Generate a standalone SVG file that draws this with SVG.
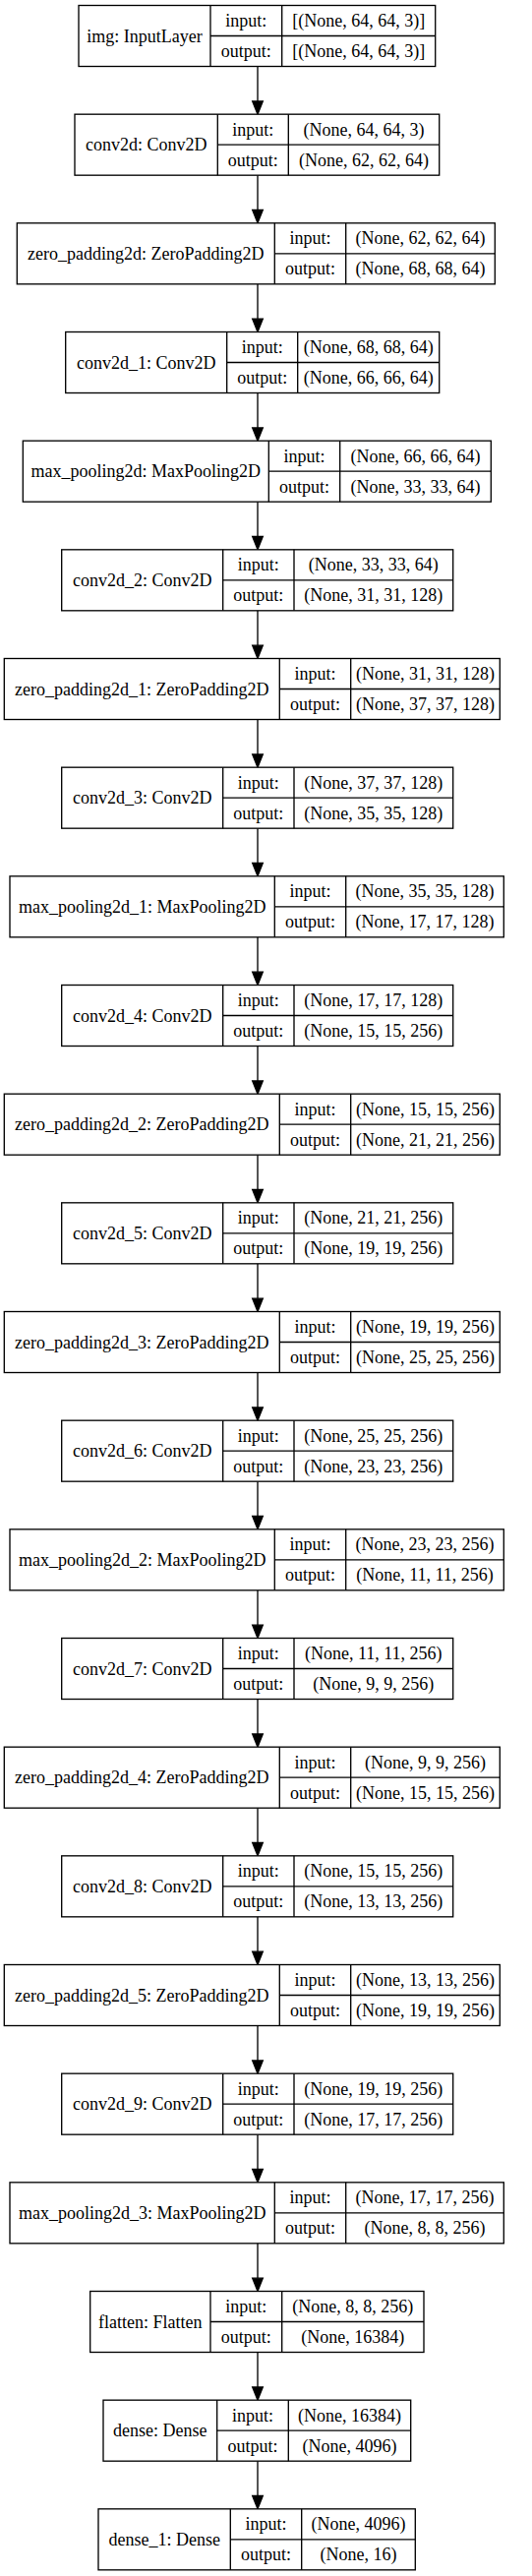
<svg xmlns="http://www.w3.org/2000/svg" width="541" height="2619" viewBox="0 0 541 2619">
<style>
.b{fill:#fff;stroke:#000;stroke-width:1.33}
.l{fill:none;stroke:#000;stroke-width:1.33}
.a{fill:#000;stroke:#000;stroke-width:1.33}
text{font-family:"Liberation Serif","Times New Roman",serif;font-size:18px;text-anchor:middle;fill:#000}
</style>
<rect x="0" y="0" width="541" height="2619" fill="#fff"/>
<g id="edges">
<path class="l" d="M262 67.5V102.9M262 178.2V213.5M262 288.8V324.2M262 399.5V434.9M262 510.2V545.5M262 620.8V656.2M262 731.5V766.9M262 842.2V877.5M262 952.8V988.2M262 1063.5V1098.9M262 1174.2V1209.5M262 1284.8V1320.2M262 1395.5V1430.9M262 1506.2V1541.5M262 1616.8V1652.2M262 1727.5V1762.9M262 1838.2V1873.5M262 1948.8V1984.2M262 2059.5V2094.9M262 2170.2V2205.5M262 2280.8V2316.2M262 2391.5V2426.9M262 2502.2V2537.5"/>
<polygon class="a" points="256.7,102.9 267.3,102.9 262,116.2"/>
<polygon class="a" points="256.7,213.5 267.3,213.5 262,226.8"/>
<polygon class="a" points="256.7,324.2 267.3,324.2 262,337.5"/>
<polygon class="a" points="256.7,434.9 267.3,434.9 262,448.2"/>
<polygon class="a" points="256.7,545.5 267.3,545.5 262,558.8"/>
<polygon class="a" points="256.7,656.2 267.3,656.2 262,669.5"/>
<polygon class="a" points="256.7,766.9 267.3,766.9 262,780.2"/>
<polygon class="a" points="256.7,877.5 267.3,877.5 262,890.8"/>
<polygon class="a" points="256.7,988.2 267.3,988.2 262,1001.5"/>
<polygon class="a" points="256.7,1098.9 267.3,1098.9 262,1112.2"/>
<polygon class="a" points="256.7,1209.5 267.3,1209.5 262,1222.8"/>
<polygon class="a" points="256.7,1320.2 267.3,1320.2 262,1333.5"/>
<polygon class="a" points="256.7,1430.9 267.3,1430.9 262,1444.2"/>
<polygon class="a" points="256.7,1541.5 267.3,1541.5 262,1554.8"/>
<polygon class="a" points="256.7,1652.2 267.3,1652.2 262,1665.5"/>
<polygon class="a" points="256.7,1762.9 267.3,1762.9 262,1776.2"/>
<polygon class="a" points="256.7,1873.5 267.3,1873.5 262,1886.8"/>
<polygon class="a" points="256.7,1984.2 267.3,1984.2 262,1997.5"/>
<polygon class="a" points="256.7,2094.9 267.3,2094.9 262,2108.2"/>
<polygon class="a" points="256.7,2205.5 267.3,2205.5 262,2218.8"/>
<polygon class="a" points="256.7,2316.2 267.3,2316.2 262,2329.5"/>
<polygon class="a" points="256.7,2426.9 267.3,2426.9 262,2440.2"/>
<polygon class="a" points="256.7,2537.5 267.3,2537.5 262,2550.8"/>
</g>

<g id="img" transform="translate(0,5.5)">
<rect class="b" x="80" y="0" width="362.7" height="62"/>
<path class="l" d="M214 0V62M286.7 0V62M214 31H442.7"/>
<text x="147" y="37">img: InputLayer</text>
<text x="250.3" y="21.5">input:</text>
<text x="364.7" y="21.5">[(None, 64, 64, 3)]</text>
<text x="250.3" y="52.5">output:</text>
<text x="364.7" y="52.5">[(None, 64, 64, 3)]</text>
</g>

<g id="conv2d" transform="translate(0,116.17)">
<rect class="b" x="76" y="0" width="370.7" height="62"/>
<path class="l" d="M221.3 0V62M293.3 0V62M221.3 31H446.7"/>
<text x="148.7" y="37">conv2d: Conv2D</text>
<text x="257.3" y="21.5">input:</text>
<text x="370" y="21.5">(None, 64, 64, 3)</text>
<text x="257.3" y="52.5">output:</text>
<text x="370" y="52.5">(None, 62, 62, 64)</text>
</g>

<g id="zero_padding2d" transform="translate(0,226.83)">
<rect class="b" x="17.3" y="0" width="486" height="62"/>
<path class="l" d="M279.3 0V62M351.7 0V62M279.3 31H503.3"/>
<text x="148.3" y="37">zero_padding2d: ZeroPadding2D</text>
<text x="315.5" y="21.5">input:</text>
<text x="427.5" y="21.5">(None, 62, 62, 64)</text>
<text x="315.5" y="52.5">output:</text>
<text x="427.5" y="52.5">(None, 68, 68, 64)</text>
</g>

<g id="conv2d_1" transform="translate(0,337.5)">
<rect class="b" x="66.7" y="0" width="380" height="62"/>
<path class="l" d="M230.7 0V62M302.7 0V62M230.7 31H446.7"/>
<text x="148.7" y="37">conv2d_1: Conv2D</text>
<text x="266.7" y="21.5">input:</text>
<text x="374.7" y="21.5">(None, 68, 68, 64)</text>
<text x="266.7" y="52.5">output:</text>
<text x="374.7" y="52.5">(None, 66, 66, 64)</text>
</g>

<g id="max_pooling2d" transform="translate(0,448.17)">
<rect class="b" x="23.3" y="0" width="476" height="62"/>
<path class="l" d="M273.3 0V62M345.7 0V62M273.3 31H499.3"/>
<text x="148.3" y="37">max_pooling2d: MaxPooling2D</text>
<text x="309.5" y="21.5">input:</text>
<text x="422.5" y="21.5">(None, 66, 66, 64)</text>
<text x="309.5" y="52.5">output:</text>
<text x="422.5" y="52.5">(None, 33, 33, 64)</text>
</g>

<g id="conv2d_2" transform="translate(0,558.83)">
<rect class="b" x="62.7" y="0" width="398" height="62"/>
<path class="l" d="M226.7 0V62M299 0V62M226.7 31H460.7"/>
<text x="144.7" y="37">conv2d_2: Conv2D</text>
<text x="262.8" y="21.5">input:</text>
<text x="379.8" y="21.5">(None, 33, 33, 64)</text>
<text x="262.8" y="52.5">output:</text>
<text x="379.8" y="52.5">(None, 31, 31, 128)</text>
</g>

<g id="zero_padding2d_1" transform="translate(0,669.5)">
<rect class="b" x="4.3" y="0" width="504" height="62"/>
<path class="l" d="M284.3 0V62M356.7 0V62M284.3 31H508.3"/>
<text x="144.3" y="37">zero_padding2d_1: ZeroPadding2D</text>
<text x="320.5" y="21.5">input:</text>
<text x="432.5" y="21.5">(None, 31, 31, 128)</text>
<text x="320.5" y="52.5">output:</text>
<text x="432.5" y="52.5">(None, 37, 37, 128)</text>
</g>

<g id="conv2d_3" transform="translate(0,780.17)">
<rect class="b" x="62.7" y="0" width="398" height="62"/>
<path class="l" d="M226.7 0V62M299 0V62M226.7 31H460.7"/>
<text x="144.7" y="37">conv2d_3: Conv2D</text>
<text x="262.8" y="21.5">input:</text>
<text x="379.8" y="21.5">(None, 37, 37, 128)</text>
<text x="262.8" y="52.5">output:</text>
<text x="379.8" y="52.5">(None, 35, 35, 128)</text>
</g>

<g id="max_pooling2d_1" transform="translate(0,890.83)">
<rect class="b" x="10" y="0" width="502.3" height="62"/>
<path class="l" d="M279.3 0V62M351.7 0V62M279.3 31H512.3"/>
<text x="144.7" y="37">max_pooling2d_1: MaxPooling2D</text>
<text x="315.5" y="21.5">input:</text>
<text x="432" y="21.5">(None, 35, 35, 128)</text>
<text x="315.5" y="52.5">output:</text>
<text x="432" y="52.5">(None, 17, 17, 128)</text>
</g>

<g id="conv2d_4" transform="translate(0,1001.5)">
<rect class="b" x="62.7" y="0" width="398" height="62"/>
<path class="l" d="M226.7 0V62M299 0V62M226.7 31H460.7"/>
<text x="144.7" y="37">conv2d_4: Conv2D</text>
<text x="262.8" y="21.5">input:</text>
<text x="379.8" y="21.5">(None, 17, 17, 128)</text>
<text x="262.8" y="52.5">output:</text>
<text x="379.8" y="52.5">(None, 15, 15, 256)</text>
</g>

<g id="zero_padding2d_2" transform="translate(0,1112.17)">
<rect class="b" x="4.3" y="0" width="504" height="62"/>
<path class="l" d="M284.3 0V62M356.7 0V62M284.3 31H508.3"/>
<text x="144.3" y="37">zero_padding2d_2: ZeroPadding2D</text>
<text x="320.5" y="21.5">input:</text>
<text x="432.5" y="21.5">(None, 15, 15, 256)</text>
<text x="320.5" y="52.5">output:</text>
<text x="432.5" y="52.5">(None, 21, 21, 256)</text>
</g>

<g id="conv2d_5" transform="translate(0,1222.83)">
<rect class="b" x="62.7" y="0" width="398" height="62"/>
<path class="l" d="M226.7 0V62M299 0V62M226.7 31H460.7"/>
<text x="144.7" y="37">conv2d_5: Conv2D</text>
<text x="262.8" y="21.5">input:</text>
<text x="379.8" y="21.5">(None, 21, 21, 256)</text>
<text x="262.8" y="52.5">output:</text>
<text x="379.8" y="52.5">(None, 19, 19, 256)</text>
</g>

<g id="zero_padding2d_3" transform="translate(0,1333.5)">
<rect class="b" x="4.3" y="0" width="504" height="62"/>
<path class="l" d="M284.3 0V62M356.7 0V62M284.3 31H508.3"/>
<text x="144.3" y="37">zero_padding2d_3: ZeroPadding2D</text>
<text x="320.5" y="21.5">input:</text>
<text x="432.5" y="21.5">(None, 19, 19, 256)</text>
<text x="320.5" y="52.5">output:</text>
<text x="432.5" y="52.5">(None, 25, 25, 256)</text>
</g>

<g id="conv2d_6" transform="translate(0,1444.17)">
<rect class="b" x="62.7" y="0" width="398" height="62"/>
<path class="l" d="M226.7 0V62M299 0V62M226.7 31H460.7"/>
<text x="144.7" y="37">conv2d_6: Conv2D</text>
<text x="262.8" y="21.5">input:</text>
<text x="379.8" y="21.5">(None, 25, 25, 256)</text>
<text x="262.8" y="52.5">output:</text>
<text x="379.8" y="52.5">(None, 23, 23, 256)</text>
</g>

<g id="max_pooling2d_2" transform="translate(0,1554.83)">
<rect class="b" x="10" y="0" width="502.3" height="62"/>
<path class="l" d="M279.3 0V62M351.7 0V62M279.3 31H512.3"/>
<text x="144.7" y="37">max_pooling2d_2: MaxPooling2D</text>
<text x="315.5" y="21.5">input:</text>
<text x="432" y="21.5">(None, 23, 23, 256)</text>
<text x="315.5" y="52.5">output:</text>
<text x="432" y="52.5">(None, 11, 11, 256)</text>
</g>

<g id="conv2d_7" transform="translate(0,1665.5)">
<rect class="b" x="62.7" y="0" width="398" height="62"/>
<path class="l" d="M226.7 0V62M299 0V62M226.7 31H460.7"/>
<text x="144.7" y="37">conv2d_7: Conv2D</text>
<text x="262.8" y="21.5">input:</text>
<text x="379.8" y="21.5">(None, 11, 11, 256)</text>
<text x="262.8" y="52.5">output:</text>
<text x="379.8" y="52.5">(None, 9, 9, 256)</text>
</g>

<g id="zero_padding2d_4" transform="translate(0,1776.17)">
<rect class="b" x="4.3" y="0" width="504" height="62"/>
<path class="l" d="M284.3 0V62M356.7 0V62M284.3 31H508.3"/>
<text x="144.3" y="37">zero_padding2d_4: ZeroPadding2D</text>
<text x="320.5" y="21.5">input:</text>
<text x="432.5" y="21.5">(None, 9, 9, 256)</text>
<text x="320.5" y="52.5">output:</text>
<text x="432.5" y="52.5">(None, 15, 15, 256)</text>
</g>

<g id="conv2d_8" transform="translate(0,1886.83)">
<rect class="b" x="62.7" y="0" width="398" height="62"/>
<path class="l" d="M226.7 0V62M299 0V62M226.7 31H460.7"/>
<text x="144.7" y="37">conv2d_8: Conv2D</text>
<text x="262.8" y="21.5">input:</text>
<text x="379.8" y="21.5">(None, 15, 15, 256)</text>
<text x="262.8" y="52.5">output:</text>
<text x="379.8" y="52.5">(None, 13, 13, 256)</text>
</g>

<g id="zero_padding2d_5" transform="translate(0,1997.5)">
<rect class="b" x="4.3" y="0" width="504" height="62"/>
<path class="l" d="M284.3 0V62M356.7 0V62M284.3 31H508.3"/>
<text x="144.3" y="37">zero_padding2d_5: ZeroPadding2D</text>
<text x="320.5" y="21.5">input:</text>
<text x="432.5" y="21.5">(None, 13, 13, 256)</text>
<text x="320.5" y="52.5">output:</text>
<text x="432.5" y="52.5">(None, 19, 19, 256)</text>
</g>

<g id="conv2d_9" transform="translate(0,2108.17)">
<rect class="b" x="62.7" y="0" width="398" height="62"/>
<path class="l" d="M226.7 0V62M299 0V62M226.7 31H460.7"/>
<text x="144.7" y="37">conv2d_9: Conv2D</text>
<text x="262.8" y="21.5">input:</text>
<text x="379.8" y="21.5">(None, 19, 19, 256)</text>
<text x="262.8" y="52.5">output:</text>
<text x="379.8" y="52.5">(None, 17, 17, 256)</text>
</g>

<g id="max_pooling2d_3" transform="translate(0,2218.83)">
<rect class="b" x="10" y="0" width="502.3" height="62"/>
<path class="l" d="M279.3 0V62M351.7 0V62M279.3 31H512.3"/>
<text x="144.7" y="37">max_pooling2d_3: MaxPooling2D</text>
<text x="315.5" y="21.5">input:</text>
<text x="432" y="21.5">(None, 17, 17, 256)</text>
<text x="315.5" y="52.5">output:</text>
<text x="432" y="52.5">(None, 8, 8, 256)</text>
</g>

<g id="flatten" transform="translate(0,2329.5)">
<rect class="b" x="91.7" y="0" width="339.3" height="62"/>
<path class="l" d="M214 0V62M286.7 0V62M214 31H431"/>
<text x="152.8" y="37">flatten: Flatten</text>
<text x="250.3" y="21.5">input:</text>
<text x="358.8" y="21.5">(None, 8, 8, 256)</text>
<text x="250.3" y="52.5">output:</text>
<text x="358.8" y="52.5">(None, 16384)</text>
</g>

<g id="dense" transform="translate(0,2440.17)">
<rect class="b" x="105" y="0" width="312.7" height="62"/>
<path class="l" d="M220.7 0V62M293.3 0V62M220.7 31H417.7"/>
<text x="162.8" y="37">dense: Dense</text>
<text x="257" y="21.5">input:</text>
<text x="355.5" y="21.5">(None, 16384)</text>
<text x="257" y="52.5">output:</text>
<text x="355.5" y="52.5">(None, 4096)</text>
</g>

<g id="dense_1" transform="translate(0,2550.83)">
<rect class="b" x="100" y="0" width="322.3" height="62"/>
<path class="l" d="M234.3 0V62M306.7 0V62M234.3 31H422.3"/>
<text x="167.2" y="37">dense_1: Dense</text>
<text x="270.5" y="21.5">input:</text>
<text x="364.5" y="21.5">(None, 4096)</text>
<text x="270.5" y="52.5">output:</text>
<text x="364.5" y="52.5">(None, 16)</text>
</g>
</svg>
